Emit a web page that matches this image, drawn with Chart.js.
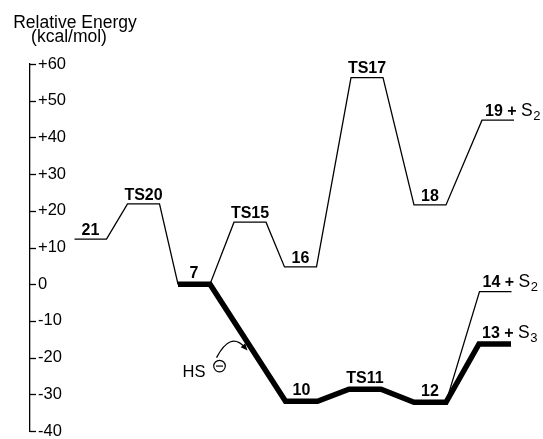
<!DOCTYPE html>
<html>
<head>
<meta charset="utf-8">
<script src="https://cdn.jsdelivr.net/npm/chart.js@4/dist/chart.umd.min.js"></script>
<style>
  html, body { margin: 0; padding: 0; background: #fff; }
  #wrap { width: 543px; height: 439px; }
</style>
</head>
<body>
<div id="wrap"><canvas id="c" width="543" height="439"></canvas></div>
<script>
// Reaction-coordinate position and relative energy (kcal/mol) of each species.
// Upper (thin) pathway through TS20 / TS15 / TS17.
const upperNames  = ['21', 'TS20', '7', 'TS15', '16', 'TS17', '18', '19'];
const upperCoord  = [1.21, 2.27, 3.28, 4.40, 5.41, 6.74, 8.00, 9.36];
const upperEnergy = [12.3, 21.9, 0, 16.9, 4.7, 56.3, 21.6, 44.7];

// Lower (bold) pathway after HS⁻ attack on 7.
const lowerNames  = ['7', '10', 'TS11', '12', '13'];
const lowerCoord  = [3.28, 5.43, 6.70, 8.00, 9.30];
const lowerEnergy = [0, -31.9, -28.6, -32.2, -16.3];

// Branch from 12 to 14 + S2.
const branchNames  = ['12', '14'];
const branchCoord  = [8.00, 9.31];
const branchEnergy = [-32.2, -2.0];

// Species released together with sulfur (S with subscript count).
const sulfurProducts = ['19', '14', '13'];
const sulfurAtoms    = ['2', '2', '3'];

// Energy axis.
const yMin = -40, yMax = 60, yStep = 10;
const yTitle = ['Relative Energy', '(kcal/mol)'];

const FONT = "'Liberation Sans', Arial, Helvetica, sans-serif";
const HALF = 0.32;          // half length of an energy level, in coordinate units
const THIN = 1.3, THICK = 5.5;

function levelPoints(coords, energies) {
  const pts = [];
  coords.forEach((c, i) => {
    pts.push({ x: c - HALF, y: energies[i] });
    pts.push({ x: c + HALF, y: energies[i] });
  });
  return pts;
}

function tickText(v) {
  return v > 0 ? '+' + v : String(v);
}

// Small tick marks pointing into the plot, plus the axis title.
const axisDecor = {
  id: 'axisDecor',
  afterDraw(chart) {
    const ctx = chart.ctx;
    const ys = chart.scales.y;
    const left = chart.chartArea.left;
    ctx.save();
    ctx.strokeStyle = '#000';
    ctx.lineWidth = THIN;
    ys.ticks.forEach(t => {
      const py = Math.round(ys.getPixelForValue(t.value)) + 0.5;
      ctx.beginPath();
      ctx.moveTo(left, py);
      ctx.lineTo(left + 6, py);
      ctx.stroke();
    });
    ctx.fillStyle = '#000';
    ctx.textAlign = 'center';
    ctx.textBaseline = 'alphabetic';
    ctx.font = '17.5px ' + FONT;
    ctx.fillText(yTitle[0], 75, 27.5);
    ctx.fillText(yTitle[1], 69, 41.5);
    ctx.restore();
  }
};

// Species labels above each level, and the HS⁻ attack arrow.
const levelLabels = {
  id: 'levelLabels',
  afterDatasetsDraw(chart) {
    const ctx = chart.ctx;
    const seen = new Set();
    ctx.save();
    ctx.fillStyle = '#000';
    ctx.textBaseline = 'alphabetic';
    chart.data.datasets.forEach((ds, di) => {
      const meta = chart.getDatasetMeta(di);
      ds.names.forEach((name, i) => {
        if (seen.has(name)) return;
        seen.add(name);
        const a = meta.data[2 * i], b = meta.data[2 * i + 1];
        const y = a.y - ds.borderWidth / 2 - 3.5;
        const k = sulfurProducts.indexOf(name);
        if (k >= 0) {
          let x = a.x + 3;
          ctx.textAlign = 'left';
          ctx.font = 'bold 16px ' + FONT;
          const head = name + ' + ';
          ctx.fillText(head, x, y);
          x += ctx.measureText(head).width;
          ctx.font = '17.5px ' + FONT;
          ctx.fillText('S', x, y);
          x += ctx.measureText('S').width + 0.5;
          ctx.font = '13px ' + FONT;
          ctx.fillText(sulfurAtoms[k], x, y + 4);
        } else {
          ctx.textAlign = 'center';
          ctx.font = 'bold 16px ' + FONT;
          ctx.fillText(name, (a.x + b.x) / 2, y);
        }
      });
    });

    // HS⁻ curved arrow onto the 7 → 10 step
    const lower = chart.getDatasetMeta(0).data;
    const p = lower[1], q = lower[2];
    const t = 0.55;
    const tx = p.x + (q.x - p.x) * t - 4;
    const ty = p.y + (q.y - p.y) * t + 2;
    const sx = tx - 31, sy = ty + 7;
    const cx = tx - 17, cy = ty - 19.5;
    ctx.strokeStyle = '#000';
    ctx.lineWidth = 1.3;
    ctx.beginPath();
    ctx.moveTo(sx, sy);
    ctx.quadraticCurveTo(cx, cy, tx - 3, ty - 3.4);
    ctx.stroke();
    // arrow head along the end tangent
    const ang = Math.atan2(ty - cy, tx - cx);
    const L = 7, W = 3;
    ctx.beginPath();
    ctx.moveTo(tx, ty);
    ctx.lineTo(tx - L * Math.cos(ang) + W * Math.sin(ang), ty - L * Math.sin(ang) - W * Math.cos(ang));
    ctx.lineTo(tx - L * Math.cos(ang) - W * Math.sin(ang), ty - L * Math.sin(ang) + W * Math.cos(ang));
    ctx.closePath();
    ctx.fill();
    // HS with circled minus
    ctx.font = '16.5px ' + FONT;
    ctx.textAlign = 'right';
    ctx.fillText('HS', tx - 42, ty + 26.5);
    const ox = tx - 28, oy = ty + 15.5;
    ctx.lineWidth = 1.2;
    ctx.beginPath();
    ctx.arc(ox, oy, 5.8, 0, Math.PI * 2);
    ctx.stroke();
    ctx.beginPath();
    ctx.moveTo(ox - 3.5, oy);
    ctx.lineTo(ox + 3.5, oy);
    ctx.stroke();
    ctx.restore();
  }
};

const lineStyle = {
  borderColor: '#000',
  pointRadius: 0,
  pointHoverRadius: 0,
  tension: 0,
  fill: false,
  borderJoinStyle: 'miter',
  borderCapStyle: 'butt'
};

new Chart(document.getElementById('c'), {
  type: 'line',
  data: {
    datasets: [
      Object.assign({ names: lowerNames, data: levelPoints(lowerCoord, lowerEnergy), borderWidth: THICK }, lineStyle),
      Object.assign({ names: upperNames, data: levelPoints(upperCoord, upperEnergy), borderWidth: THIN }, lineStyle),
      Object.assign({ names: branchNames, data: levelPoints(branchCoord, branchEnergy), borderWidth: THIN }, lineStyle)
    ]
  },
  options: {
    responsive: false,
    animation: false,
    devicePixelRatio: 1,
    layout: { padding: { top: 64, bottom: 8, left: 0, right: 13 } },
    plugins: { legend: { display: false }, tooltip: { enabled: false } },
    scales: {
      x: { type: 'linear', min: 0, max: 10, display: false },
      y: {
        type: 'linear',
        position: 'left',
        min: yMin, max: yMax,
        ticks: {
          stepSize: yStep,
          mirror: true,
          padding: 8,
          color: '#000',
          font: { family: FONT, size: 16.5 },
          callback: v => tickText(v)
        },
        grid: { drawOnChartArea: false, drawTicks: false },
        border: { display: true, color: '#000', width: THIN },
        afterFit(scale) {
          scale.width = 30;
          scale.paddingTop = 0;
          scale.paddingBottom = 0;
        }
      }
    }
  },
  plugins: [axisDecor, levelLabels]
});
</script>
</body>
</html>
